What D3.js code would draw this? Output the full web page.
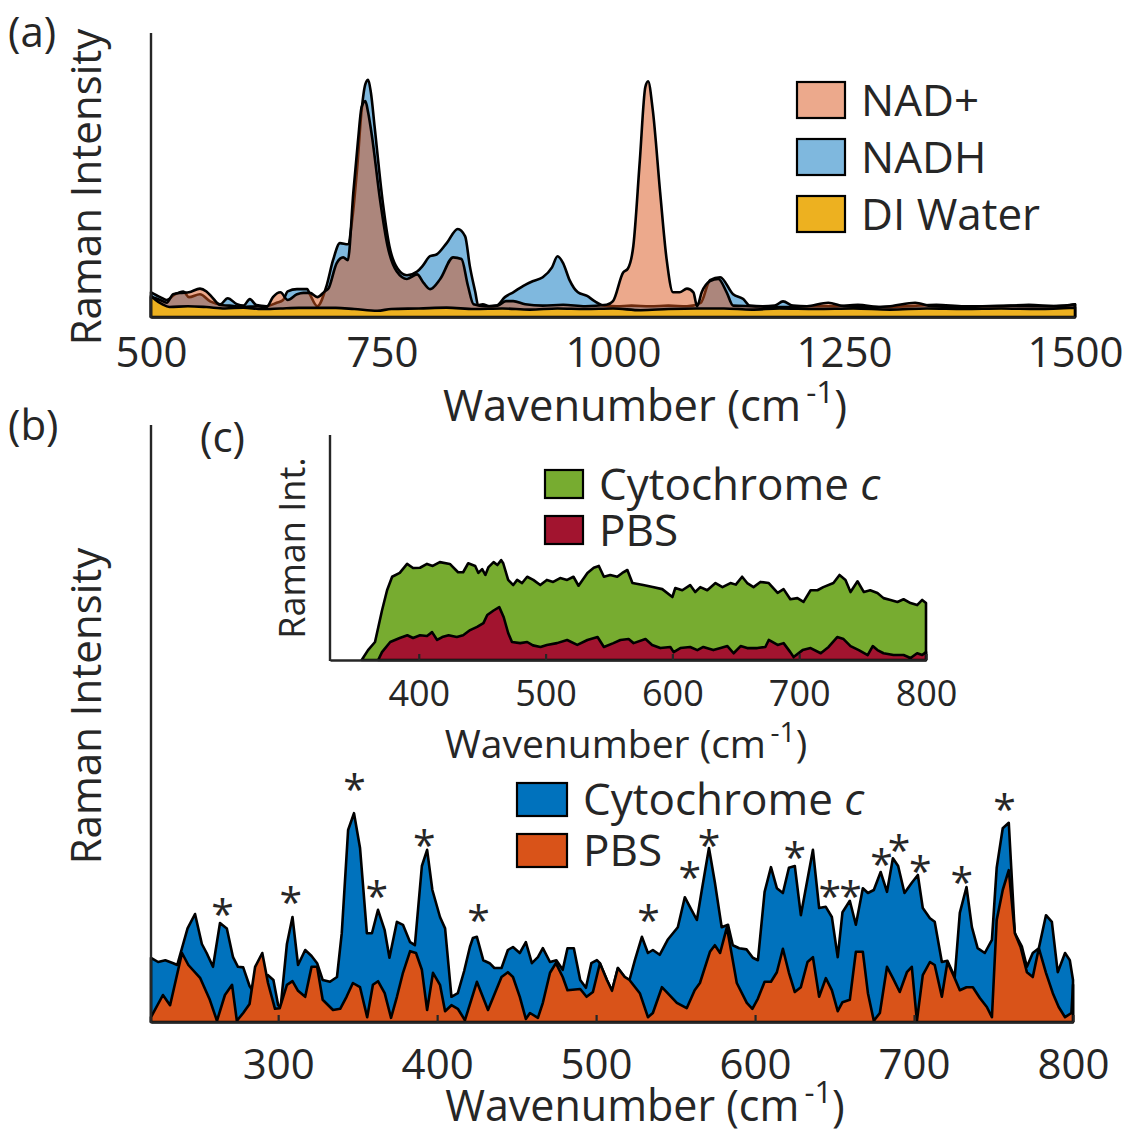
<!DOCTYPE html>
<html><head><meta charset="utf-8">
<script src="https://cdn.jsdelivr.net/npm/d3@7"></script>
<style>
body{margin:0;background:#fff}
svg text{font-family:"Open Sans",sans-serif;fill:#262626}
</style></head>
<body><svg id="chart" width="1128" height="1135"></svg>
<script>
// ---------- Panel (a) data: [wavenumber, intensity] ----------
const nadPlus = [[500,7],[510,6],[517,5],[524,8],[533,8.5],[541,8.7],[553,10],[560,9],[566,7],[575,4.2],[585,4],[600,3.5],[615,3.8],[625,3.5],[632,7],[640,8.7],[648,6],[658,8],[665,8.5],[672,8.5],[680,7],[688,9],[692,10],[701,19],[708,21],[713,20],[719,44],[724,62],[728,74],[732,76],[735,72],[739,64],[748,41],[756,25],[766,16],[777,13.4],[788,15],[795,12],[802,9.8],[813,13.4],[827,21],[836,20.4],[843,11],[849,4.5],[862,3.8],[875,4],[884,5.6],[892,5.6],[905,4.5],[924,4],[946,4.3],[970,3.8],[993,4.3],[1000,5.6],[1011,15.7],[1016,17],[1022,25],[1029,55],[1035,81],[1038,83],[1043,73],[1051,44],[1058,20.4],[1065,8.7],[1072,8.7],[1080,10],[1087,8.7],[1091,3.8],[1096,8.7],[1105,12.6],[1114,13.4],[1123,8.7],[1130,4],[1150,3.8],[1180,3.5],[1210,3.8],[1233,5],[1250,3.8],[1280,3.5],[1300,3.8],[1327,5],[1345,3.8],[1380,3.5],[1400,3.8],[1430,4],[1460,3.8],[1490,4],[1500,4.5]];
const nadh = [[500,8.7],[510,7],[517,6],[526,8],[535,9],[541,7],[553,8],[564,5.5],[575,4.5],[583,6.6],[593,4.5],[600,4],[607,6.3],[614,4.2],[625,3.8],[636,5],[643,6],[648,9],[658,9.8],[669,9.8],[672,8],[680,3.8],[690,11],[697,20],[704.5,26],[713,25.6],[718,35],[723,52],[728,73],[732,82],[735,83.5],[738,79],[742,67],[751,40],[758,25],[767,17],[777,14.7],[788,16],[794,18],[802,21.4],[809,22],[820,26],[832,31],[840,28.4],[845,18],[851,8.7],[854,4.2],[859,4.5],[866,3.8],[874,4],[883,7],[892,8.7],[903,11],[913,12.6],[924,14],[934,17.5],[940,21.4],[946,19],[953,13],[962,8.7],[972,7.4],[980,5.6],[991,4],[1004,3.8],[1020,4],[1040,3.8],[1060,4],[1080,3.8],[1095,5],[1105,13],[1116,14],[1130,8],[1141,6.3],[1148,4],[1162,3.8],[1175,4],[1184,5.5],[1195,4],[1210,3.8],[1240,3.8],[1265,4.3],[1290,3.5],[1320,3.8],[1350,4.3],[1380,3.8],[1420,3.8],[1450,4.3],[1480,3.8],[1500,4.5]];
const diWater = [[500,7.5],[505,6],[512,4.5],[520,3.5],[540,3.8],[560,3.5],[580,3],[600,3.3],[620,2.8],[640,3],[660,3.2],[700,3.2],[720,2.8],[745,2.2],[760,2.8],[790,3],[820,3.3],[850,2.8],[880,3],[910,2.6],[940,3],[970,2.8],[1000,3],[1030,2.4],[1060,2.8],[1090,3],[1120,3],[1150,2.6],[1180,3],[1220,2.8],[1260,3],[1300,2.6],[1340,3],[1380,2.8],[1420,3],[1460,2.8],[1500,3.3]];
const ticksA = [500,750,1000,1250,1500];
const legendA = ["NAD+","NADH","DI Water"];

// ---------- Panel (b) data ----------
const cytoB = [[220,10.7],[224.5,10],[229,10.3],[234,9.8],[236.5,9.5],[243,15.6],[247.7,18],[252,13],[255,11.5],[259,9.2],[263.4,16.5],[267.7,15.6],[271.6,10.8],[274.7,9.2],[278,9.1],[282,6],[285,4.8],[289,6],[293.6,7.8],[297,7],[300,2.8],[301.5,2.4],[305.5,13],[309,17.5],[312.5,9.5],[317,12],[321,11],[324.5,9.8],[328,7],[332.6,6.7],[337,7.5],[340,14.8],[344,32],[347.7,34.8],[351.5,29],[355.8,14.8],[359,14.8],[362.8,18.7],[367,15.3],[370,10.7],[374.7,16.7],[378.5,16.2],[383,13.3],[386,12.8],[390.4,26],[393.7,28.7],[397,22],[401.8,17.5],[405,15.6],[409,4.2],[413,4.8],[417,8.5],[420.6,12.5],[422.5,14],[425,14.2],[429,10.3],[433,9.8],[436,9],[440.5,9],[444.5,12],[447.7,12.5],[452,11.5],[455.8,13.3],[459.6,9.8],[463.4,10.8],[466.5,12.3],[471,10],[475,10.3],[479,8.7],[482,12.3],[486,12.3],[490,7],[493.6,5.7],[497,9.8],[500.5,10.3],[502.4,9.8],[506.8,7],[510,5.2],[513.7,9],[518,7.5],[521,7],[524.4,10.3],[528.8,14.2],[532.6,11.5],[535.7,12],[540,11.2],[545,13.7],[551.4,15.8],[555.8,20.8],[560,18.7],[563.4,17],[566.5,22],[571,29],[574.7,23.3],[579,15.8],[583,16.2],[586,12.8],[590,12.3],[594.6,12.1],[598.6,10.7],[601.8,10.3],[606,21.7],[610,25.8],[613.7,22.3],[617.5,21.5],[621.3,25.7],[625,26],[628.8,17.8],[636.4,28.7],[640.3,19],[644.5,19.2],[648.3,17.5],[652,10.8],[655,18.3],[659.6,20.2],[663.4,16.2],[667.8,22.3],[671,21.5],[674.7,22],[679,25],[683,21.7],[686.7,27.3],[690,26],[694,21.5],[698.6,23.2],[702.4,24.5],[705.5,19],[710,17.3],[713,16.7],[717.5,10],[721,10.2],[725.6,7.5],[728.8,18.2],[733,22.5],[736.4,15.8],[740,12.3],[744.5,11.5],[749,13.7],[752,25.7],[755.8,32.3],[759.6,33.2],[763.4,14.8],[767.8,12.6],[771,9.2],[774.7,11.5],[778.5,12.3],[783,17.8],[786.7,16.7],[790.4,8.3],[795,11.5],[798,10.3],[800,7]];
const pbsB = [[220,0.8],[227.5,4.5],[232,2.8],[239.5,11.5],[243.5,9.5],[251,7.3],[257,3.7],[261.5,0.2],[266.5,4.5],[271,6.2],[274,0.2],[278,1.5],[282,3],[285.5,9.2],[290,11.5],[293.6,6.5],[298,2.2],[301,2.3],[305.5,6.2],[309,6.8],[312.5,5.2],[317,4.2],[321,9.2],[324.5,9.2],[328,3.7],[334.5,2],[339,2.2],[343,4.2],[347,6.5],[351.5,5.8],[356,0.8],[359.6,6.2],[362.8,6.8],[367,4.8],[371,0.7],[374.7,4.2],[378.5,8.2],[383,11.8],[386.7,11.5],[390.4,8.7],[393.7,2],[397.4,8.2],[401.8,6.2],[405,1.8],[409,2.8],[413,2.2],[417.5,0.3],[425,6.7],[432,2],[440.5,7.5],[444.5,8.3],[447.7,7.5],[452,4.2],[455.8,0.5],[458.4,1.5],[463.4,0.7],[466.5,3.2],[471,8.2],[474.7,9.8],[479,7.5],[482,5.3],[490,5.5],[494,4.2],[498,5],[502.4,9.8],[506.8,7],[510,5.2],[513.7,9],[518,7.5],[521,7],[527.5,4.8],[532.6,0.8],[535.7,1.5],[541.4,5.8],[545,4.8],[550.8,3.2],[557,2.3],[562,5.3],[565.3,6.5],[571.6,11.7],[574.7,12.8],[578,11.5],[582.3,15.8],[588.5,6.5],[594.8,3.2],[598.3,2.2],[601.8,3.9],[606,6.7],[610,6.7],[613.7,8.3],[617.5,12.2],[621.3,8.2],[625,5],[628.8,5.8],[633,10],[636.4,10.8],[640.3,4.2],[644.5,7.3],[648.3,5.3],[652,1.8],[655,3.3],[659.6,3.7],[663.4,11.7],[667.8,11.7],[671,4.8],[674.7,0.2],[678.5,1.5],[683,9.2],[686.7,7.3],[691,5],[695.5,8.3],[698.6,9.2],[701.8,0.2],[705.5,7.8],[710,10],[713,9.5],[717.5,4.2],[721,10],[725.6,7.3],[728.8,5.3],[733,5.8],[737,5.8],[741.4,4],[745.8,2.5],[749,0.8],[752,17],[755.8,22],[759.6,25.3],[763.4,14.8],[767,12.5],[771,8.3],[774.7,7.5],[778.5,12.3],[783,8.2],[787.3,4.8],[791,2.5],[795,0.8],[799,1.5],[800,6.2]];
const peakMarks = [[265,19.5],[308,21.5],[348,40.3],[362,22.5],[392,31],[426,18.5],[533,18.5],[559,25.7],[571,31],[625,29],[647,22.5],[660,22.5],[679.5,27.8],[690.5,30.2],[704,26.7],[730,24.8],[757,37]];
const ticksB = [300,400,500,600,700,800];
const legendB = ["Cytochrome","PBS"];

// ---------- Panel (c) data ----------
const cytoC = [[355,0],[360,4.4],[365.5,8],[371,22],[375,31],[379,37],[385,38.7],[390.8,42.7],[395.5,40.9],[401,41],[406.5,42.7],[411,41.8],[416.6,43.5],[424.5,42.7],[431,39],[435,39],[439,43],[444.5,41.8],[447,38.7],[450,40.4],[452.5,37.8],[455,41.3],[459,43.5],[462,42.2],[465,44.4],[466.6,43],[470.5,35.6],[474.5,33.3],[477.6,35.6],[481.5,34.2],[485.5,37],[490.3,35.6],[495.8,33.3],[501,35.6],[506,34.7],[511.5,36.4],[517,35.6],[522,37],[526,33],[533,38.7],[538,41],[542,41.8],[546,37],[551,37.8],[556.5,37],[560.5,38.7],[564.5,40],[568.5,34.2],[577,33.3],[584.5,32.4],[592,31.5],[600,28],[602.3,32],[607.8,31],[614,33.3],[618,30.2],[622,32.4],[627.5,31],[634,34.2],[639.5,32.4],[645.8,34.2],[650,33.5],[655,37],[659,34.2],[664,32.4],[669.4,34.7],[676,34.2],[683,29.8],[687.7,31.5],[693,27],[698.6,27.5],[703.4,25.8],[709,31],[714.4,31],[719,32.4],[727,34.2],[731.8,37.8],[736.5,35.6],[740.5,30.2],[746,35],[751,30.2],[756,31],[761.7,29.8],[766.5,27.5],[772,26.7],[777.5,25.8],[782.3,27],[787.8,25.3],[793,24.4],[797,26.7],[800,25.3]];
const pbsC = [[368,0],[371,3.5],[377.5,8],[385,9.8],[391,11],[395.5,9.8],[401,11],[406.5,10.7],[410.5,12.4],[414.5,8.9],[418.5,10.2],[423.5,11],[430,10.2],[435,11],[440.5,13.3],[446,14.7],[451,16.4],[454,20],[459,22],[463.5,23.5],[467,19],[470.5,12],[473.5,8],[480,7.5],[485.5,8],[490,6.5],[496,5.8],[501,6.7],[509,7.5],[517,8.9],[525,6.7],[533,8.9],[541,10.2],[546,5.8],[553.5,7.5],[559,8.9],[565.5,9.3],[569.4,7.5],[578.8,9.3],[584,6.7],[590.5,5.3],[598.4,5.8],[601,3.5],[606.3,5.3],[614,5.8],[619.7,4.4],[624.4,5.8],[632.3,4.4],[638,5.3],[643.4,6.2],[648.3,3],[653.8,6.2],[659,5.3],[667,5.3],[673.3,5.8],[676,8.9],[683,6.7],[687.7,7.5],[693,3.5],[695.6,1.3],[702.7,4.4],[709,5.3],[717,3],[723.2,5.8],[730,10.2],[735,9.3],[740.5,6.2],[747,4.4],[754,2.2],[758,6.2],[761.7,4.4],[766.5,3],[774.4,2.2],[782.3,2.2],[787.8,0.9],[793,3],[797,2.2],[800,3.5]];
const ticksC = [400,500,600,700,800];

// ---------- Drawing ----------
const svg = d3.select("#chart");
const AX = "#262626";
const SW = 2.6;

function drawArea(data, x, y, fill, op, curve) {
  const area = d3.area().x(d => x(d[0])).y0(y(0)).y1(d => y(d[1])).curve(curve || d3.curveLinear);
  svg.append("path").datum(data).attr("d", area)
    .attr("fill", fill).attr("fill-opacity", op)
    .attr("stroke", "#000").attr("stroke-width", SW).attr("stroke-linejoin", "round");
}
function xAxis(x, yPos, ticks, tickLen, pad, fs) {
  const g = svg.append("g").attr("transform", `translate(0,${yPos})`)
    .call(d3.axisBottom(x).tickValues(ticks).tickFormat(d3.format("d"))
      .tickSizeInner(-tickLen).tickSizeOuter(0).tickPadding(pad));
  g.select(".domain").attr("stroke", AX).attr("stroke-width", 2.6);
  g.selectAll(".tick line").attr("stroke", AX).attr("stroke-width", 2.2);
  g.selectAll(".tick text").attr("font-size", fs).attr("font-family", '"Open Sans",sans-serif').attr("fill", AX);
}
function yLine(xPos, y0, y1) {
  svg.append("line").attr("x1", xPos).attr("x2", xPos).attr("y1", y0).attr("y2", y1)
    .attr("stroke", AX).attr("stroke-width", 2.4);
}
function label(txt, x, y, fs, rot, anchor) {
  return svg.append("text").attr("transform", `translate(${x},${y})` + (rot ? " rotate(-90)" : ""))
    .attr("text-anchor", anchor || "middle").attr("font-size", fs).text(txt);
}
function xTitle(cx, y, fs) {
  const t = svg.append("text").attr("x", cx).attr("y", y).attr("text-anchor", "middle").attr("font-size", fs);
  t.append("tspan").text("Wavenumber (cm");
  t.append("tspan").attr("font-size", fs * 0.72).attr("dy", -fs * 0.42).text("\u2009-1");
  t.append("tspan").attr("dy", fs * 0.42).text(")");
}
function legendItem(x, y, w, h, fill, txt, italicC, fs) {
  svg.append("rect").attr("x", x).attr("y", y).attr("width", w).attr("height", h)
    .attr("fill", fill.c).attr("fill-opacity", fill.o).attr("stroke", "#000").attr("stroke-width", 2.2);
  const t = svg.append("text").attr("x", x + w + 16).attr("y", y + h / 2 + fs * 0.36).attr("font-size", fs).attr("fill", "#000");
  t.append("tspan").text(txt);
  if (italicC) t.append("tspan").attr("font-style", "italic").text(" c");
}

// Panel (a)
const xA = d3.scaleLinear().domain([500, 1500]).range([151, 1075]);
const yA = d3.scaleLinear().domain([0, 100]).range([317, 33]);
const cA = {nadp: {c: "#D95319", o: 0.5}, nadh: {c: "#0072BD", o: 0.5}, di: {c: "#EDB120", o: 1}};
drawArea(nadh, xA, yA, cA.nadh.c, cA.nadh.o, d3.curveMonotoneX);
drawArea(nadPlus, xA, yA, cA.nadp.c, cA.nadp.o, d3.curveMonotoneX);
drawArea(diWater, xA, yA, cA.di.c, cA.di.o, d3.curveMonotoneX);
xAxis(xA, 317, ticksA, 0, 20, 42);
yLine(151, 33, 318);
label("Raman Intensity", 101, 187, 42, true);
xTitle(645, 421, 43.5);
label("(a)", 8, 47, 42, false, "start");
[cA.nadp, cA.nadh, cA.di].forEach((f, i) => legendItem(797, 82 + i * 57, 48, 36, f, legendA[i], false, 44));

// Panel (b)
const xB = d3.scaleLinear().domain([220, 800]).range([151, 1073]);
const yB = d3.scaleLinear().domain([0, 100]).range([1022, 422]);
drawArea(cytoB, xB, yB, "#0072BD", 1);
drawArea(pbsB, xB, yB, "#D95319", 1);
xAxis(xB, 1022, ticksB, 7, 27, 42);
yLine(151, 425, 1023);
label("Raman Intensity", 101, 706, 42, true);
xTitle(645, 1121, 43);
label("(b)", 8, 440, 42, false, "start");
svg.selectAll("text.mark").data(peakMarks).join("text").attr("class", "mark")
  .attr("x", d => xB(d[0])).attr("y", d => yB(d[1]) + 24).attr("text-anchor", "middle")
  .attr("font-size", 41).attr("fill", "#000").text("*");
legendItem(517, 783, 50, 33, {c: "#0072BD", o: 1}, legendB[0], true, 44);
legendItem(517, 834, 50, 33, {c: "#D95319", o: 1}, legendB[1], false, 44);

// Panel (c) inset
const xC = d3.scaleLinear().domain([330, 800]).range([330, 926]);
const yC = d3.scaleLinear().domain([0, 100]).range([660, 435]);
drawArea(cytoC, xC, yC, "#77AC30", 1);
drawArea(pbsC, xC, yC, "#A2142F", 1);
xAxis(xC, 660, ticksC, 6, 20, 36);
yLine(330, 435, 661);
label("Raman Int.", 305, 548, 36, true);
xTitle(626, 758, 39);
label("(c)", 200, 452, 42, false, "start");
legendItem(545, 470, 38, 28, {c: "#77AC30", o: 1}, legendB[0], true, 44);
legendItem(545, 516, 38, 28, {c: "#A2142F", o: 1}, legendB[1], false, 44);
</script></body></html>
